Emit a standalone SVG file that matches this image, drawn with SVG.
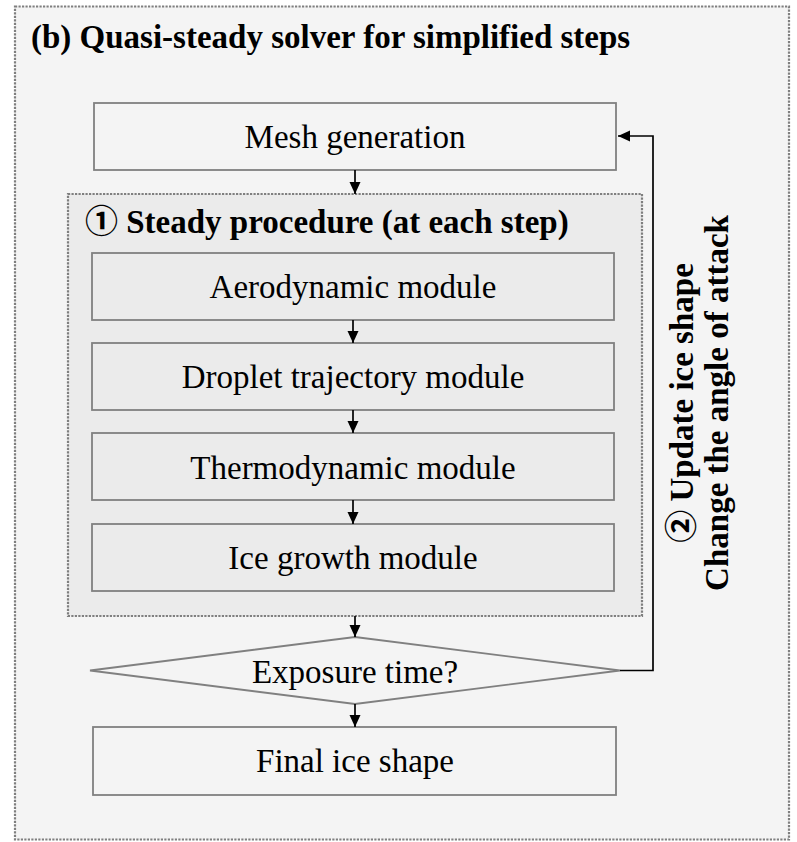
<svg xmlns="http://www.w3.org/2000/svg" width="797" height="842" viewBox="0 0 797 842">
<style>
.txt{font-family:"Liberation Serif","DejaVu Serif","Noto Sans CJK JP",serif;font-size:33px;fill:#000}
.b{font-weight:bold}
.mid{text-anchor:middle}
.box{fill:#f4f4f4;stroke:#808080;stroke-width:1.8}
.mod{fill:#ebebeb;stroke:#808080;stroke-width:1.8}
.dot{stroke:#7f7f7f;stroke-width:2.2;stroke-dasharray:2.2 1.3}
.con{fill:none;stroke:#000;stroke-width:1.7}
</style>
<defs>
<marker id="ah" viewBox="0 0 12 12" refX="12" refY="6" markerWidth="12" markerHeight="12" markerUnits="userSpaceOnUse" orient="auto">
<path d="M0,0.5 L12,6 L0,11.5 z" fill="#000"/>
</marker>
</defs>
<rect width="797" height="842" fill="#ffffff"/>
<g id="frame">
<rect x="15" y="6.5" width="774" height="833" fill="#f4f4f4" class="dot"/>
<text x="31" y="48" class="txt b">(b) Quasi-steady solver for simplified steps</text>
</g>
<g id="mesh">
<rect x="94" y="103" width="522" height="67" class="box"/>
<text x="355" y="148" class="txt mid">Mesh generation</text>
</g>
<g id="steady">
<rect x="68" y="194" width="574" height="422" fill="#ebebeb" class="dot"/>
<text x="85" y="233" class="txt b">① Steady procedure (at each step)</text>
</g>
<g id="aero">
<rect x="92" y="253" width="522" height="67" class="mod"/>
<text x="353" y="298" class="txt mid">Aerodynamic module</text>
</g>
<g id="droplet">
<rect x="92" y="343" width="522" height="67" class="mod"/>
<text x="353" y="388" class="txt mid">Droplet trajectory module</text>
</g>
<g id="thermo">
<rect x="92" y="433" width="522" height="67" class="mod"/>
<text x="353" y="479" class="txt mid">Thermodynamic module</text>
</g>
<g id="icegrowth">
<rect x="92" y="524" width="522" height="67" class="mod"/>
<text x="353" y="569" class="txt mid">Ice growth module</text>
</g>
<g id="exposure">
<polygon points="355,637 620,670.5 355,704 90,670.5" class="box"/>
<text x="355" y="683" class="txt mid">Exposure time?</text>
</g>
<g id="final">
<rect x="93" y="727" width="523" height="68" class="box"/>
<text x="355" y="772" class="txt mid">Final ice shape</text>
</g>
<g id="loop-label">
<text transform="translate(693,403) rotate(-90)" class="txt b mid">② Update ice shape</text>
<text transform="translate(728,403) rotate(-90)" class="txt b mid">Change the angle of attack</text>
</g>
<g id="connectors">
<line x1="355" y1="170" x2="355" y2="194" class="con" marker-end="url(#ah)"/>
<line x1="353" y1="320" x2="353" y2="343" class="con" marker-end="url(#ah)"/>
<line x1="353" y1="410" x2="353" y2="433" class="con" marker-end="url(#ah)"/>
<line x1="353" y1="500" x2="353" y2="524" class="con" marker-end="url(#ah)"/>
<line x1="355" y1="616" x2="355" y2="637" class="con" marker-end="url(#ah)"/>
<line x1="355" y1="704" x2="355" y2="727" class="con" marker-end="url(#ah)"/>
<polyline points="620,670.5 653,670.5 653,136 618,136" class="con" marker-end="url(#ah)"/>
</g>
</svg>
